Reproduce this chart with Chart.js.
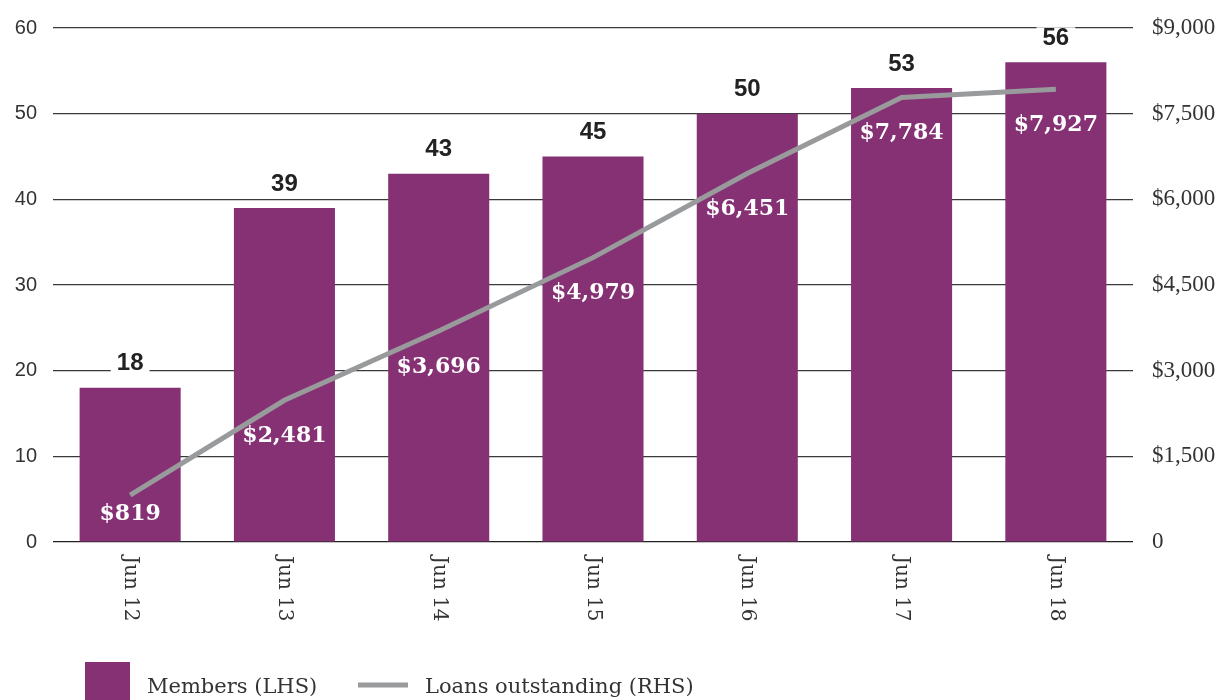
<!DOCTYPE html>
<html>
<head>
<meta charset="utf-8">
<script src="https://cdn.jsdelivr.net/npm/chart.js@4"></script>
<style>
  html, body { margin: 0; padding: 0; background: #fff; }
  #wrap { width: 1222px; height: 700px; }
</style>
</head>
<body>
<div id="wrap"><canvas id="cha" width="1222" height="700"></canvas></div>
<script>
const periodos = ['Jun 12', 'Jun 13', 'Jun 14', 'Jun 15', 'Jun 16', 'Jun 17', 'Jun 18'];
const membros = [18, 39, 43, 45, 50, 53, 56];
const emprestimos = [819, 2481, 3696, 4979, 6451, 7784, 7927];
const ticksEsq = [0, 10, 20, 30, 40, 50, 60];
const ticksDir = [0, 1500, 3000, 4500, 6000, 7500, 9000];

const roxo = '#853174';
const cinza = '#999a9c';
const serif = '"DejaVu Serif", "Liberation Serif", serif';
const serif2 = '"Liberation Serif", serif';
const sans = '"Liberation Sans", Arial, sans-serif';

function dinheiro(v) {
    return v === 0 ? '0' : '$' + v.toLocaleString('en-US');
}

// rotulos, eixo x girado e legenda
const extras = {
    id: 'extras',
    afterDatasetsDraw(chart) {
        const c = chart.ctx;
        const x = chart.scales.x;
        const y = chart.scales.y;
        const y1 = chart.scales.y1;
        const area = chart.chartArea;
        c.save();

        // valores acima das barras
        c.font = 'bold 24px ' + sans;
        c.textAlign = 'center';
        c.textBaseline = 'middle';
        membros.forEach((v, i) => {
            const px = x.getPixelForValue(i);
            const py = y.getPixelForValue(v) - 24;
            const w = c.measureText(String(v)).width;
            c.fillStyle = '#fff';
            c.fillRect(px - w / 2 - 6, py - 11, w + 12, 22);
            c.fillStyle = '#222';
            c.fillText(String(v), px, py);
        });

        // valores da linha dentro das barras
        c.font = 'bold 22px ' + serif;
        c.fillStyle = '#fff';
        emprestimos.forEach((v, i) => {
            const px = x.getPixelForValue(i);
            const py = Math.min(y1.getPixelForValue(v) + 36, area.bottom - 28);
            c.fillText(dinheiro(v), px, py);
        });

        // eixo x girado
        c.font = '20px ' + serif;
        c.fillStyle = '#333';
        c.textAlign = 'left';
        periodos.forEach((p, i) => {
            const px = x.getPixelForValue(i);
            c.save();
            c.translate(px, area.bottom + 14);
            c.rotate(Math.PI / 2);
            c.fillText(p, 0, 0);
            c.restore();
        });

        // legenda
        c.fillStyle = roxo;
        c.fillRect(85, 662, 45, 40);
        c.fillStyle = '#333';
        c.font = '21px ' + serif;
        c.textBaseline = 'middle';
        c.fillText('Members (LHS)', 147, 688);
        c.strokeStyle = cinza;
        c.lineWidth = 5;
        c.beginPath();
        c.moveTo(358, 685);
        c.lineTo(408, 685);
        c.stroke();
        c.fillText('Loans outstanding (RHS)', 425, 688);
        c.restore();
    }
};

const ctx = document.getElementById('cha');
const grafico = new Chart(ctx, {
    type: 'bar',
    data: {
        labels: periodos,
        datasets: [{
            type: 'line',
            label: 'Loans outstanding (RHS)',
            data: emprestimos,
            yAxisID: 'y1',
            borderColor: cinza,
            borderWidth: 5,
            pointRadius: 0,
            tension: 0,
            order: 0,
        },
        {
            label: 'Members (LHS)',
            data: membros,
            yAxisID: 'y',
            backgroundColor: roxo,
            categoryPercentage: 1,
            barPercentage: 0.655,
            order: 1,
        }],
    },
    options: {
        responsive: false,
        animation: false,
        layout: { padding: { top: 20 } },
        plugins: {
            legend: { display: false },
            tooltip: { enabled: false },
        },
        scales: {
            x: {
                grid: { display: false },
                border: { display: false },
                ticks: { display: false },
                afterFit(s) { s.height = 158; }
            },
            y: {
                position: 'left',
                min: 0,
                max: 60,
                afterBuildTicks(s) { s.ticks = ticksEsq.map(v => ({ value: v })); },
                afterFit(s) { s.width = 53; },
                grid: {
                    color: (c) => c.tick && c.tick.value === 0 ? '#222' : '#3a3a3a',
                    lineWidth: 1.2,
                    drawTicks: false,
                },
                border: { display: false },
                ticks: {
                    font: { family: sans, size: 20 },
                    color: '#333',
                    padding: 16,
                }
            },
            y1: {
                position: 'right',
                min: 0,
                max: 9000,
                afterBuildTicks(s) { s.ticks = ticksDir.map(v => ({ value: v })); },
                afterFit(s) { s.width = 89; },
                grid: { display: false },
                border: { display: false },
                ticks: {
                    font: { family: serif2, size: 23 },
                    color: '#333',
                    padding: 11,
                    callback: (v) => dinheiro(v),
                }
            }
        }
    },
    plugins: [extras]
});
</script>
</body>
</html>
